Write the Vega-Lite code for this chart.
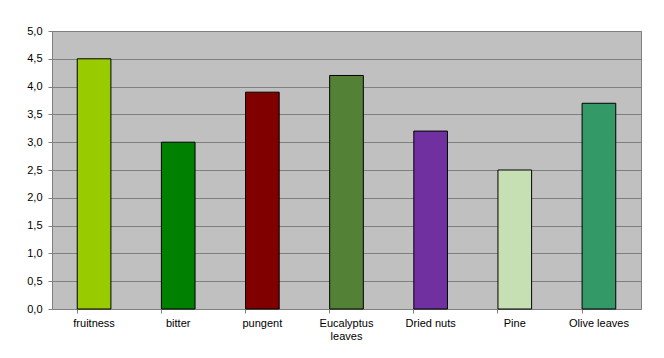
{
  "$schema": "https://vega.github.io/schema/vega-lite/v6.json",
  "autosize": {"type": "none"},
  "padding": {"left": 52, "top": 31, "right": 23, "bottom": 49},
  "width": 589,
  "height": 278,
  "background": "white",
  "config": {
    "view": {"fill": "#C0C0C0", "stroke": "#808080", "strokeWidth": 1},
    "font": "Liberation Sans"
  },
  "data": {
    "values": [
      {"category": "fruitness", "value": 4.5, "color": "#99CC00"},
      {"category": "bitter", "value": 3.0, "color": "#008000"},
      {"category": "pungent", "value": 3.9, "color": "#800000"},
      {"category": "Eucalyptus leaves", "value": 4.2, "color": "#538135"},
      {"category": "Dried nuts", "value": 3.2, "color": "#7030A0"},
      {"category": "Pine", "value": 2.5, "color": "#C6E0B4"},
      {"category": "Olive leaves", "value": 3.7, "color": "#339966"}
    ]
  },
  "mark": {"type": "bar", "stroke": "#000000", "strokeWidth": 1},
  "encoding": {
    "x": {
      "field": "category",
      "type": "nominal",
      "sort": null,
      "scale": {"paddingInner": 0.6, "paddingOuter": 0.3},
      "axis": {
        "title": null,
        "labelAngle": 0,
        "labelFont": "Liberation Sans",
        "labelFontSize": 11,
        "labelColor": "#000000",
        "labelExpr": "datum.label == 'Eucalyptus leaves' ? ['Eucalyptus', 'leaves'] : datum.label",
        "labelLineHeight": 13,
        "bandPosition": 0,
        "tickSize": 4,
        "tickColor": "#808080",
        "domainColor": "#808080",
        "labelPadding": 4,
        "grid": false
      }
    },
    "y": {
      "field": "value",
      "type": "quantitative",
      "scale": {"domain": [0, 5], "nice": false},
      "axis": {
        "title": null,
        "values": [0, 0.5, 1, 1.5, 2, 2.5, 3, 3.5, 4, 4.5, 5],
        "labelExpr": "replace(format(datum.value, '.1f'), '.', ',')",
        "labelFont": "Liberation Sans",
        "labelFontSize": 11,
        "labelColor": "#000000",
        "tickSize": 4,
        "tickColor": "#808080",
        "domainColor": "#808080",
        "labelPadding": 6,
        "grid": true,
        "gridColor": "#808080",
        "gridOpacity": 1
      }
    },
    "fill": {"field": "color", "type": "nominal", "scale": null, "legend": null}
  }
}
